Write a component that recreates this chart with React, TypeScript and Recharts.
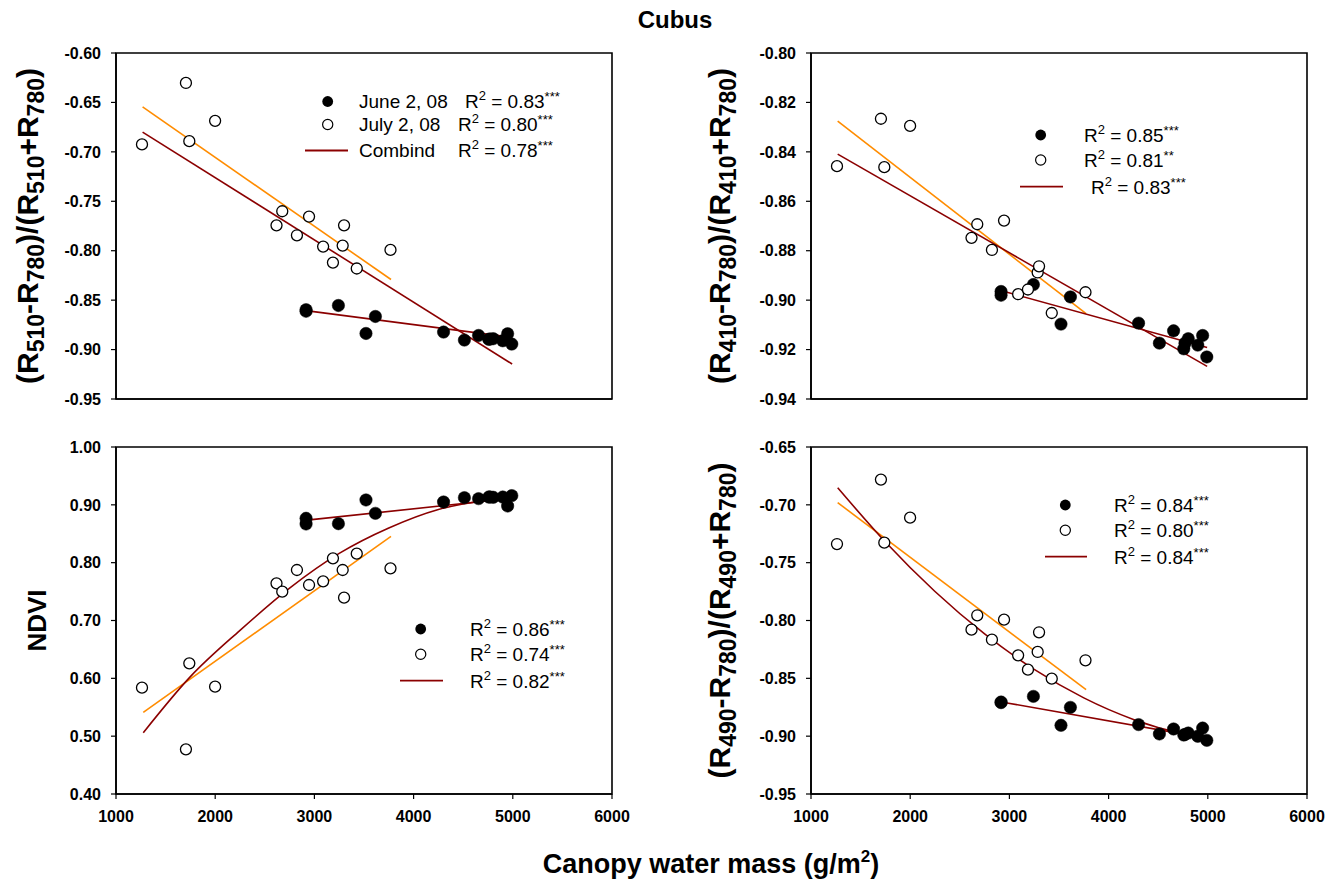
import React from 'react';
import { ComposedChart, Scatter, Line, XAxis, YAxis, ReferenceArea, Legend, Label } from 'recharts';

const FONT = '"Liberation Sans", Arial, Helvetica, sans-serif';
const ORANGE = '#FF8C00';
const DARKRED = '#8B0000';

// ---------- data ----------
const xTicks = [1000, 2000, 3000, 4000, 5000, 6000];
const julyX = [1262, 1705, 1739, 1999, 2618, 2676, 2824, 2946, 3088, 3187, 3285, 3299, 3427, 3767];
const juneX = [2916, 2916, 3242, 3520, 3615, 4302, 4512, 4655, 4758, 4770, 4803, 4899, 4948, 4990];

// (R510-R780)/(R510+R780)
const ticksA = [-0.95, -0.9, -0.85, -0.8, -0.75, -0.7, -0.65, -0.6];
const julyA = [-0.6925, -0.6303, -0.6892, -0.6686, -0.7743, -0.7601, -0.7844, -0.7655, -0.7958, -0.812, -0.7948, -0.7743, -0.818, -0.7992];
const juneA = [-0.8597, -0.8612, -0.8554, -0.8837, -0.8665, -0.8823, -0.8904, -0.8857, -0.8897, -0.8893, -0.889, -0.8911, -0.884, -0.8944];
const orangeAX = [1268, 3772];
const orangeAY = [-0.6545, -0.8291];
const juneFitAX = [2973, 4993];
const juneFitAY = [-0.8614, -0.8877];
const combAX = [1268, 4993];
const combAY = [-0.68, -0.9146];

// (R410-R780)/(R410+R780)
const ticksB = [-0.94, -0.92, -0.9, -0.88, -0.86, -0.84, -0.82, -0.8];
const julyB = [-0.8458, -0.8266, -0.8462, -0.8295, -0.8748, -0.8693, -0.8797, -0.8678, -0.8976, -0.8957, -0.8888, -0.8863, -0.9052, -0.8968];
const juneB = [-0.8965, -0.898, -0.8937, -0.9097, -0.8987, -0.9093, -0.9174, -0.9124, -0.9197, -0.9174, -0.9156, -0.9182, -0.9143, -0.923];
const orangeBX = [1269, 3773];
const orangeBY = [-0.8276, -0.9055];
const juneFitBX = [2976, 4993];
const juneFitBY = [-0.8968, -0.9192];
const combBX = [1269, 4993];
const combBY = [-0.8409, -0.9268];

// NDVI
const ticksC = [0.4, 0.5, 0.6, 0.7, 0.8, 0.9, 1.0];
const julyC = [0.5839, 0.4772, 0.6259, 0.5856, 0.7643, 0.7499, 0.7873, 0.7614, 0.7677, 0.8075, 0.7873, 0.7395, 0.8156, 0.7902];
const juneC = [0.8767, 0.8669, 0.8674, 0.9084, 0.8853, 0.9049, 0.9124, 0.9107, 0.9135, 0.9135, 0.913, 0.9135, 0.898, 0.9159];
const orangeCX = [1275, 3772];
const orangeCY = [0.5412, 0.8455];
const juneFitCX = [2973, 4990];
const juneFitCY = [0.8744, 0.9112];
const combCX = [1275, 1750, 2250, 2750, 3250, 3750, 4250, 4750, 4990];
const combCY = [0.506, 0.603, 0.683, 0.756, 0.816, 0.86, 0.892, 0.908, 0.912];

// (R490-R780)/(R490+R780)
const ticksD = [-0.95, -0.9, -0.85, -0.8, -0.75, -0.7, -0.65];
const julyD = [-0.7339, -0.6782, -0.7327, -0.7111, -0.8079, -0.7955, -0.8166, -0.7993, -0.8301, -0.8425, -0.8272, -0.8102, -0.8503, -0.8344];
const juneD = [-0.8705, -0.871, -0.8656, -0.8906, -0.8751, -0.89, -0.8981, -0.8938, -0.899, -0.8985, -0.8973, -0.9001, -0.893, -0.9036];
const orangeDX = [1269, 3773];
const orangeDY = [-0.6981, -0.8598];
const juneFitDX = [2976, 4997];
const juneFitDY = [-0.8713, -0.9019];
const combDX = [1269, 1750, 2250, 2750, 3250, 3750, 4250, 4750, 4997];
const combDY = [-0.6852, -0.7321, -0.7749, -0.8116, -0.8423, -0.8669, -0.8855, -0.898, -0.9019];

// legend texts
const legendNamesA = ['June 2, 08', 'July 2, 08', 'Combind'];
const legendR2A = ['0.83', '0.80', '0.78'];
const legendStarsA = ['***', '***', '***'];
const legendR2B = ['0.85', '0.81', '0.83'];
const legendStarsB = ['***', '**', '***'];
const legendR2C = ['0.86', '0.74', '0.82'];
const legendStarsC = ['***', '***', '***'];
const legendR2D = ['0.84', '0.80', '0.84'];
const legendStarsD = ['***', '***', '***'];

const pts = (xs: number[], ys: number[]) => xs.map((x, i) => ({ x, y: ys[i] }));

// ---------- layout ----------
const CW = 640;
const CH = 430;

type Seg = { t: string; sub?: boolean };

const labelA: Seg[] = [{ t: '(R' }, { t: '510', sub: true }, { t: '-R' }, { t: '780', sub: true }, { t: ')/(R' }, { t: '510', sub: true }, { t: '+R' }, { t: '780', sub: true }, { t: ')' }];
const labelB: Seg[] = [{ t: '(R' }, { t: '410', sub: true }, { t: '-R' }, { t: '780', sub: true }, { t: ')/(R' }, { t: '410', sub: true }, { t: '+R' }, { t: '780', sub: true }, { t: ')' }];
const labelC: Seg[] = [{ t: 'NDVI' }];
const labelD: Seg[] = [{ t: '(R' }, { t: '490', sub: true }, { t: '-R' }, { t: '780', sub: true }, { t: ')/(R' }, { t: '490', sub: true }, { t: '+R' }, { t: '780', sub: true }, { t: ')' }];

const makeYLabel = (segs: Seg[], offset: number, size: number, subSize: number) => (props: any) => {
  const vb = props && props.viewBox ? props.viewBox : {};
  const x0 = typeof vb.x === 'number' ? vb.x : 0;
  const w = typeof vb.width === 'number' ? vb.width : 116;
  const y0 = typeof vb.y === 'number' ? vb.y : 50;
  const h = typeof vb.height === 'number' ? vb.height : 347;
  const cx = x0 + w - offset;
  const cy = y0 + h / 2;
  let shift = 0;
  const SH = 6;
  return (
    <text
      x={cx}
      y={cy}
      transform={`rotate(-90 ${cx} ${cy})`}
      textAnchor="middle"
      fontFamily={FONT}
      fontWeight="bold"
      fontSize={size}
      fill="#000"
    >
      {segs.map((s, i) => {
        const target = s.sub ? SH : 0;
        const dy = target - shift;
        shift = target;
        return (
          <tspan key={i} dy={dy} fontSize={s.sub ? subSize : size}>
            {s.t}
          </tspan>
        );
      })}
    </text>
  );
};

type LegendSpec = {
  ox: number;
  oy: number;
  mx: number;
  rows: number[];
  line: [number, number];
  nameX: number;
  rX: number[];
  names?: string[];
  r2: string[];
  stars: string[];
};

const LegendBox = ({ spec }: { spec: LegendSpec }) => {
  const { ox, oy, mx, rows, line, nameX, rX, names, r2, stars } = spec;
  const fs = 19;
  const sup = 13;
  return (
    <svg width={CW} height={CH} style={{ position: 'absolute', left: 0, top: 0, overflow: 'visible' }}>
      <circle cx={mx - ox} cy={rows[0] - oy} r={5.4} fill="#000" />
      <circle cx={mx - ox} cy={rows[1] - oy} r={5.1} fill="#fff" stroke="#000" strokeWidth={1.2} />
      <line x1={line[0] - ox} x2={line[1] - ox} y1={rows[2] - oy} y2={rows[2] - oy} stroke={DARKRED} strokeWidth={1.8} />
      {rows.map((ry, i) => (
        <g key={i} fontFamily={FONT} fontSize={fs} fill="#000">
          {names ? (
            <text x={nameX - ox} y={ry - oy + 6.8}>
              {names[i]}
            </text>
          ) : null}
          <text x={rX[i] - ox} y={ry - oy + 6.8}>
            R
            <tspan dy={-8} fontSize={sup}>
              2
            </tspan>
            <tspan dy={8}>{' = ' + r2[i]}</tspan>
            <tspan dy={-7} fontSize={sup}>
              {stars[i]}
            </tspan>
          </text>
        </g>
      ))}
    </svg>
  );
};

const filledShape = (p: any) => <circle cx={p.cx} cy={p.cy} r={6.2} fill="#000" stroke="#000" strokeWidth={0.5} />;
const openShape = (p: any) => <circle cx={p.cx} cy={p.cy} r={5.5} fill="#fff" stroke="#000" strokeWidth={1.3} />;

const renderXTick = (props: any) => {
  const { x, y, payload } = props;
  return (
    <text
      key={`xt-${payload.value}`}
      x={x}
      y={y}
      dy={11.5}
      textAnchor="middle"
      style={{ fontFamily: FONT, fontWeight: 700, fontSize: '16px', fill: '#000' }}
    >
      {payload.value}
    </text>
  );
};

const renderYTick = (props: any) => {
  const { x, y, payload } = props;
  return (
    <text
      key={`yt-${payload.value}`}
      x={x}
      y={y}
      dy={5.7}
      textAnchor="end"
      style={{ fontFamily: FONT, fontWeight: 700, fontSize: '16px', fill: '#000' }}
    >
      {Number(payload.value).toFixed(2)}
    </text>
  );
};

type PanelProps = {
  left: number;
  top: number;
  mt: number;
  mb: number;
  showX: boolean;
  domain: [number, number];
  ticks: number[];
  june: { x: number; y: number }[];
  july: { x: number; y: number }[];
  orange: { x: number; y: number }[];
  juneFit: { x: number; y: number }[];
  comb: { x: number; y: number }[];
  curved: boolean;
  label: (p: any) => any;
  legend: LegendSpec;
};

const Panel = (p: PanelProps) => (
  <div style={{ position: 'absolute', left: p.left, top: p.top, width: CW, height: CH }}>
    <ComposedChart width={CW} height={CH} margin={{ top: p.mt, right: 28, bottom: p.mb, left: 0 }}>
      <XAxis
        type="number"
        dataKey="x"
        domain={[1000, 6000]}
        ticks={xTicks}
        interval={0}
        allowDataOverflow
        height={30}
        tickSize={5}
        tickMargin={11}
        tick={p.showX ? renderXTick : false}
        axisLine={{ stroke: '#000', strokeWidth: 1.6 }}
        tickLine={{ stroke: '#000', strokeWidth: 1.2 }}
      />
      <YAxis
        type="number"
        dataKey="y"
        domain={p.domain}
        ticks={p.ticks}
        interval={0}
        allowDataOverflow
        width={116}
        tickSize={5}
        tickMargin={10}
        tick={renderYTick}
        axisLine={{ stroke: '#000', strokeWidth: 1.6 }}
        tickLine={{ stroke: '#000', strokeWidth: 1.2 }}
      >
        <Label content={p.label} />
      </YAxis>
      <ReferenceArea
        x1={1000}
        x2={6000}
        y1={p.domain[0]}
        y2={p.domain[1]}
        fill="none"
        fillOpacity={0}
        stroke="#000"
        strokeWidth={1.6}
        strokeOpacity={1}
        ifOverflow="visible"
      />
      <Line data={p.orange} dataKey="y" type="linear" stroke={ORANGE} strokeWidth={1.6} dot={false} activeDot={false} isAnimationActive={false} />
      <Line data={p.juneFit} dataKey="y" type="linear" stroke={DARKRED} strokeWidth={1.6} dot={false} activeDot={false} isAnimationActive={false} />
      <Line data={p.comb} dataKey="y" type={p.curved ? 'monotone' : 'linear'} stroke={DARKRED} strokeWidth={1.6} dot={false} activeDot={false} isAnimationActive={false} />
      <Scatter data={p.june} dataKey="y" shape={filledShape} isAnimationActive={false} />
      <Scatter data={p.july} dataKey="y" shape={openShape} isAnimationActive={false} />
      <Legend
        layout="horizontal"
        verticalAlign="middle"
        align="center"
        content={() => <LegendBox spec={p.legend} />}
        wrapperStyle={{ position: 'absolute', left: 0, top: 0, width: CW, height: CH, margin: 0, padding: 0, pointerEvents: 'none' }}
      />
    </ComposedChart>
  </div>
);

export default function App() {
  return (
    <div style={{ position: 'absolute', left: 0, top: 0, width: 1343, height: 881, background: '#fff', overflow: 'hidden' }}>
      <Panel
        left={0}
        top={0}
        mt={53}
        mb={1}
        showX={false}
        domain={[-0.95, -0.6]}
        ticks={ticksA}
        june={pts(juneX, juneA)}
        july={pts(julyX, julyA)}
        orange={pts(orangeAX, orangeAY)}
        juneFit={pts(juneFitAX, juneFitAY)}
        comb={pts(combAX, combAY)}
        curved={false}
        label={makeYLabel(labelA, 78, 30, 23)}
        legend={{ ox: 0, oy: 0, mx: 327.7, rows: [101.5, 124.5, 150.5], line: [305, 348], nameX: 359, rX: [465, 458, 458], names: legendNamesA, r2: legendR2A, stars: legendStarsA }}
      />
      <Panel
        left={695}
        top={0}
        mt={53}
        mb={1}
        showX={false}
        domain={[-0.94, -0.8]}
        ticks={ticksB}
        june={pts(juneX, juneB)}
        july={pts(julyX, julyB)}
        orange={pts(orangeBX, orangeBY)}
        juneFit={pts(juneFitBX, juneFitBY)}
        comb={pts(combBX, combBY)}
        curved={false}
        label={makeYLabel(labelB, 81, 30, 23)}
        legend={{ ox: 695, oy: 0, mx: 1040.7, rows: [135, 160, 186.7], line: [1020, 1063], nameX: 0, rX: [1084, 1084, 1091], r2: legendR2B, stars: legendStarsB }}
      />
      <Panel
        left={0}
        top={400}
        mt={47}
        mb={6}
        showX={true}
        domain={[0.4, 1.0]}
        ticks={ticksC}
        june={pts(juneX, juneC)}
        july={pts(julyX, julyC)}
        orange={pts(orangeCX, orangeCY)}
        juneFit={pts(juneFitCX, juneFitCY)}
        comb={pts(combCX, combCY)}
        curved={true}
        label={makeYLabel(labelC, 70, 26, 26)}
        legend={{ ox: 0, oy: 400, mx: 420.7, rows: [629, 654.3, 680.7], line: [400, 443], nameX: 0, rX: [470, 470, 470], r2: legendR2C, stars: legendStarsC }}
      />
      <Panel
        left={695}
        top={400}
        mt={47}
        mb={6}
        showX={true}
        domain={[-0.95, -0.65]}
        ticks={ticksD}
        june={pts(juneX, juneD)}
        july={pts(julyX, julyD)}
        orange={pts(orangeDX, orangeDY)}
        juneFit={pts(juneFitDX, juneFitDY)}
        comb={pts(combDX, combDY)}
        curved={true}
        label={makeYLabel(labelD, 81, 30, 23)}
        legend={{ ox: 695, oy: 400, mx: 1065.3, rows: [505, 530.3, 556.7], line: [1045, 1087], nameX: 0, rX: [1114, 1114, 1114], r2: legendR2D, stars: legendStarsD }}
      />
      <svg width={1343} height={881} style={{ position: 'absolute', left: 0, top: 0, pointerEvents: 'none' }}>
        <text x={675} y={28} textAnchor="middle" fontFamily={FONT} fontWeight="bold" fontSize={24} fill="#000">
          Cubus
        </text>
        <text x={711} y={873} textAnchor="middle" fontFamily={FONT} fontWeight="bold" fontSize={27} fill="#000">
          Canopy water mass (g/m
          <tspan dy={-11} fontSize={17}>
            2
          </tspan>
          <tspan dy={11}>)</tspan>
        </text>
      </svg>
    </div>
  );
}
